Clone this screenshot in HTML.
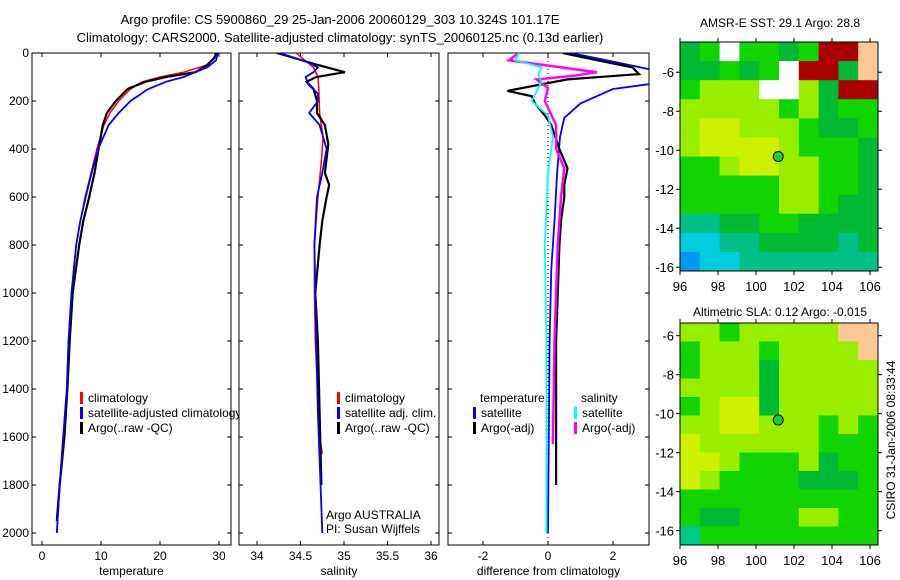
<!DOCTYPE html>
<html><head><meta charset="utf-8"><style>
body{margin:0;background:#fff;}
svg{display:block;font-family:"Liberation Sans",sans-serif;font-size:12px;}
</style></head><body>
<svg id="fig" width="900" height="580" viewBox="0 0 900 580">
<text x="340" y="24" text-anchor="middle" font-size="13">Argo profile: CS 5900860_29 25-Jan-2006 20060129_303 10.324S 101.17E</text>
<text x="340" y="42" text-anchor="middle" font-size="13">Climatology: CARS2000. Satellite-adjusted climatology: synTS_20060125.nc (0.13d earlier)</text>
<g id="maps"></g>
<g id="panels"></g>
<text x="780" y="27" text-anchor="middle">AMSR-E SST: 29.1  Argo: 28.8</text>
<text x="780" y="316" text-anchor="middle">Altimetric SLA: 0.12  Argo: -0.015</text>
<text transform="translate(895,440) rotate(-90)" text-anchor="middle">CSIRO 31-Jan-2006 08:33:44</text>
</svg>
<script>
// ---- data ----
const depthTicks=[0,200,400,600,800,1000,1200,1400,1600,1800,2000];
const tempTicks=[0,10,20,30];
const salTicks=[34,34.5,35,35.5,36];
const diffTicks=[-2,0,2];
const tClimD=[0,20,50,80,100,120,150,200,250,300,400,500,600,700,800,1000,1200,1400,1600,1800,2000];
const tClimV=[29.5,29.3,28,24,20,17,15,13,11.5,10.5,9.3,8.3,7.3,6.5,5.8,5,4.5,4.2,3.6,3.0,2.5];
const tSatD=[0,30,60,80,100,120,150,200,250,300,400,500,600,700,800,1000,1200,1400,1600,1800,2000];
const tSatV=[29.8,29.5,28,26,24,21,18,15,13,11.3,9.5,8.4,7.4,6.5,5.8,5,4.5,4.2,3.6,3.0,2.5];
const tArgoD=[0,20,50,80,100,120,150,200,250,300,400,500,600,700,800,1000,1200,1400,1600,1800,1950];
const tArgoV=[29.5,29.2,28,26,21,17.5,14.5,12.5,11,10.3,9.6,8.9,8,7,6.3,5.2,4.7,4.3,3.8,3.0,2.5];
const sClimD=[0,30,60,100,150,250,350,450,600,800,1000,1200,1600,1670];
const sClimV=[34.45,34.55,34.65,34.7,34.71,34.72,34.76,34.74,34.7,34.66,34.66,34.67,34.72,34.75];
const sSatD=[0,40,60,80,100,130,170,200,250,300,400,500,600,800,1000,1200,1500,2000];
const sSatV=[34.26,34.6,34.7,34.65,34.56,34.59,34.7,34.7,34.6,34.72,34.8,34.75,34.69,34.66,34.67,34.68,34.7,34.75];
const sArgoD=[0,50,80,100,120,150,200,250,300,380,500,550,600,700,800,1000,1200,1500,1800];
const sArgoV=[34.23,34.7,35.01,34.68,34.57,34.65,34.69,34.69,34.78,34.82,34.78,34.83,34.8,34.75,34.72,34.67,34.7,34.72,34.74];
const dTSatD=[0,30,70,100,130,150,180,210,270,350,500,700,900,1200,2000];
const dTSatV=[0.7,1.8,3.2,3.5,3.1,2.0,1.5,1.0,0.5,0.37,0.28,0.2,0.1,0.05,0.0];
const dTArgoD=[0,30,60,88,110,158,180,210,260,300,400,480,550,600,700,800,1000,1200,1500,1800];
const dTArgoV=[0.46,1.5,2.6,2.8,0.6,-1.25,-0.5,-0.4,-0.1,0.1,0.35,0.6,0.5,0.5,0.4,0.35,0.3,0.25,0.25,0.25];
const dSSatD=[0,30,60,90,120,200,260,350,400,500,800,1200,2000];
const dSSatV=[-0.9,-1.0,-0.2,-0.3,-0.2,-0.5,0.0,0.15,0.1,0.0,-0.1,-0.05,-0.05];
const dSArgoD=[0,30,60,80,95,110,146,200,300,400,480,600,800,1200,1630];
const dSArgoV=[-0.9,-1.2,0.4,1.5,0.8,-0.35,0.0,-0.1,0.25,0.25,0.5,0.4,0.3,0.2,0.15];
const latTicks=[-6,-8,-10,-12,-14,-16];
const lonTicks=[96,98,100,102,104,106];
const sstGrid=["GgwggGgrrl","GGgGgwrrGl","gyyywwyGrr","yyyyygyGgg","yYYyyygGGg","yYYYYygggG","ggyYYyyggG","gggggyyggG","gggggyygGG","ccGGggGGGG","CCccGGGGcG","bCCccccccc"];
const slaGrid=["yygyyyyyll","gyyygyyyyl","gyyyGyyyyy","yyyyGyyyyy","gyYYGyyyyy","yyYYyyygyg","Yyyyyyyggg","YYygggyGgg","YyggggGGGg","gggggggggg","gGGgggyygg","tggggggggg"];
// ---- helpers ----
const NS="http://www.w3.org/2000/svg";
function mk(tag,attrs,parent){const e=document.createElementNS(NS,tag);for(const k in attrs)e.setAttribute(k,attrs[k]);parent.appendChild(e);return e;}
const PT=53,PB=545;
const yD=d=>PT+d*0.24;
const xT=v=>42+v*5.9;
const xS=v=>257+(v-34)*87;
const xDf=v=>548+v*32.5;
const panels=document.getElementById('panels');
function panel(x0,x1,xs,ticks,label,name,leftLabels){
  const g=mk('g',{},panels);
  
  
  const clip=mk('clipPath',{id:'c'+name},g);mk('rect',{x:x0,y:PT,width:x1-x0,height:PB-PT},clip);
  mk('rect',{x:x0,y:PT,width:x1-x0,height:PB-PT,fill:'#fff',stroke:'#000','stroke-width':1},g);
  depthTicks.forEach(d=>{const y=yD(d);
    mk('line',{x1:x0,x2:x0+4,y1:y,y2:y,stroke:'#000'},g);mk('line',{x1:x1-4,x2:x1,y1:y,y2:y,stroke:'#000'},g);
    if(leftLabels){const t=mk('text',{x:x0-3,y:y+4,'text-anchor':'end'},g);t.textContent=d;
      
      }});
  ticks.forEach(v=>{const x=xs(v);
    mk('line',{x1:x,x2:x,y1:PB,y2:PB-4,stroke:'#000'},g);mk('line',{x1:x,x2:x,y1:PT,y2:PT+4,stroke:'#000'},g);
    const t=mk('text',{x:x,y:PB+15,'text-anchor':'middle'},g);t.textContent=v;
    
    });
  const t=mk('text',{x:(x0+x1)/2,y:PB+30,'text-anchor':'middle'},g);t.textContent=label;
  
  
  return g;
}
function line(g,name,D,V,xs,color,w,clipId){
  const p=mk('polyline',{points:D.map((d,i)=>xs(V[i]).toFixed(1)+','+yD(d).toFixed(1)).join(' '),fill:'none',stroke:color,'stroke-width':w,'clip-path':'url(#c'+clipId+')'},g);
  
  
}
function legend(g,x,y,items){items.forEach((it,i)=>{
  if(it[1])mk('rect',{x:x,y:y+i*15-10,width:3,height:12,fill:it[1]},g);
  const t=mk('text',{x:x+(it[1]?8:-1),y:y+i*15},g);t.textContent=it[0];
  
  });}
// temperature
const g1=panel(32,231,xT,tempTicks,'temperature','temperature-panel',true);
line(g1,'temp-climatology',tClimD,tClimV,xT,'#f00',1.5,'temperature-panel');
line(g1,'temp-argo',tArgoD,tArgoV,xT,'#000',2.2,'temperature-panel');
line(g1,'temp-satellite',tSatD,tSatV,xT,'#00f',1.8,'temperature-panel');
legend(g1,80,402,[['climatology','#f00'],['satellite-adjusted climatology','#00f'],['Argo(..raw -QC)','#000']]);
// salinity
const g2=panel(239,439,xS,salTicks,'salinity','salinity-panel',false);
line(g2,'sal-climatology',sClimD,sClimV,xS,'#f00',1.5,'salinity-panel');
line(g2,'sal-argo',sArgoD,sArgoV,xS,'#000',2.2,'salinity-panel');
line(g2,'sal-satellite',sSatD,sSatV,xS,'#00f',1.8,'salinity-panel');
legend(g2,337,402,[['climatology','#f00'],['satellite adj. clim.','#00f'],['Argo(..raw -QC)','#000']]);
{const t=mk('text',{x:326,y:519},g2);t.textContent='Argo AUSTRALIA';
 const u=mk('text',{x:326,y:533},g2);u.textContent='PI: Susan Wijffels';}
// difference
const g3=panel(448,649,xDf,diffTicks,'difference from climatology','difference-panel',false);
mk('line',{x1:xDf(0),x2:xDf(0),y1:PT,y2:PB,stroke:'#000','stroke-dasharray':'1,3'},g3);
line(g3,'diff-temp-satellite',dTSatD,dTSatV,xDf,'#00f',1.8,'difference-panel');
line(g3,'diff-temp-argo',dTArgoD,dTArgoV,xDf,'#000',2.2,'difference-panel');
line(g3,'diff-sal-argo',dSArgoD,dSArgoV,xDf,'#f0f',2.5,'difference-panel');
line(g3,'diff-sal-satellite',dSSatD,dSSatV,xDf,'#0ff',1.8,'difference-panel');
legend(g3,481,402,[['temperature',null]]);
legend(g3,473,417,[['satellite','#00f'],['Argo(-adj)','#000']]);
legend(g3,582,402,[['salinity',null]]);
legend(g3,574,417,[['satellite','#0ff'],['Argo(-adj)','#f0f']]);
// maps
const cols={G:'#00bb33',g:'#11d400',y:'#99ee00',Y:'#ccf000',c:'#00c088',C:'#00ccdd',b:'#0099ee',w:'#ffffff',r:'#aa0000',l:'#fcc896',t:'#00c888'};
const maps=document.getElementById('maps');
function map(name,top,bot,latTop,grid){
  const g=mk('g',{},maps);
  
  
  const L=680,R=878,cw=(R-L)/10,ch=(bot-top)/12;
  grid.forEach((row,r)=>row.split('').forEach((k,c)=>{mk('rect',{x:L+c*cw,y:top+r*ch,width:cw+0.5,height:ch+0.5,fill:cols[k]},g);}));
  mk('rect',{x:L,y:top,width:R-L,height:bot-top,fill:'none',stroke:'#000'},g);
  const yL=lat=>top+(latTop-lat)*19.5, xL=lon=>680+(lon-96)*19;
  latTicks.forEach(v=>{const y=yL(v);if(y<top||y>bot)return;
    mk('line',{x1:L,x2:L-4,y1:y,y2:y,stroke:'#000'},g);mk('line',{x1:R,x2:R+4,y1:y,y2:y,stroke:'#000'},g);
    const t=mk('text',{x:L-6,y:y+5,'text-anchor':'end','font-size':13},g);t.textContent=v;
    
    });
  lonTicks.forEach(v=>{const x=xL(v);
    mk('line',{x1:x,x2:x,y1:bot,y2:bot+4,stroke:'#000'},g);mk('line',{x1:x,x2:x,y1:top,y2:top-4,stroke:'#000'},g);
    const t=mk('text',{x:x,y:bot+20,'text-anchor':'middle','font-size':13},g);t.textContent=v;
    
    });
  const m=mk('circle',{cx:xL(101.17),cy:yL(-10.324),r:5,fill:'#22cc22',stroke:'#000'},g);
  
  
}
map('sst-map',42,271,-4.45,sstGrid);
map('sla-map',323,545,-5.35,slaGrid);
</script>
</body></html>
